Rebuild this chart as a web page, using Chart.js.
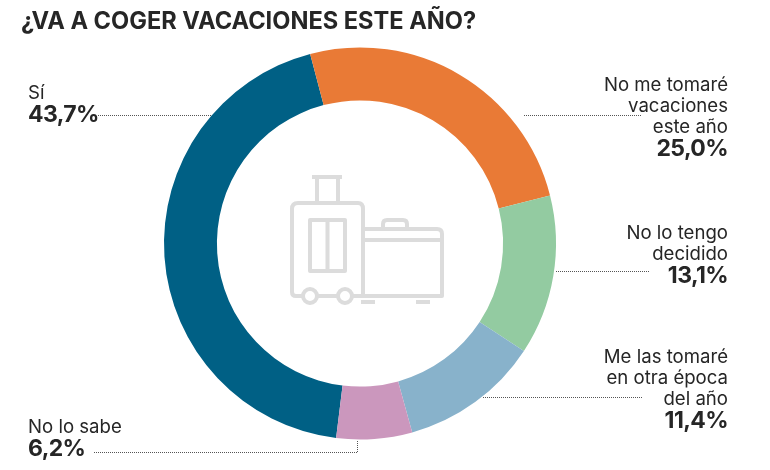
<!DOCTYPE html>
<html lang="es">
<head>
  <meta charset="UTF-8">
  <title>¿Va a coger vacaciones este año?</title>
  <script src="https://cdn.jsdelivr.net/npm/chart.js"></script>
  <style>
    html, body {
      margin: 0;
      background: white;
    }

    #wrap {
      position: relative;
      width: 770px;
      height: 470px;
      overflow: hidden;
      font-family: Inter, sans-serif;
      color: #262626;
    }

    #chart, #overlay {
      position: absolute;
      left: 0;
      top: 0;
    }

    h1 {
      position: absolute;
      left: 21px;
      top: 5px;
      margin: 0;
      font-size: 23.6px;
      line-height: 32px;
      font-weight: 700;
      white-space: nowrap;
    }

    .label {
      position: absolute;
      font-size: 18.6px;
      line-height: 21px;
      white-space: nowrap;
    }

    .label b {
      display: block;
      font-size: 23px;
      line-height: 23px;
      font-weight: 700;
      letter-spacing: -0.6px;
    }

    .right {
      right: 42px;
      text-align: right;
    }

    .left {
      left: 28px;
    }
  </style>
</head>
<body>
  <div id="wrap">
    <canvas id="chart" width="770" height="470"></canvas>
    <svg id="overlay" width="770" height="470" fill="none">
      <g stroke="#555" stroke-width="1" stroke-dasharray="1 1">
        <path d="M98 115.500H212"/>
        <path d="M524 115.500H642"/>
        <path d="M556 271.500H650"/>
        <path d="M483 397.500H642"/>
        <path d="M94 452.500H357.500V440"/>
      </g>
      <g stroke="#dcdcdc" stroke-width="4" stroke-linejoin="round">
        <path d="M312 177H342M317 177V203M338 177V203"/>
        <path d="M303 296H296Q292 296 292 292V209Q292 203 298 203H358Q363 203 363 209V294"/>
        <path d="M310 220H345V271H310ZM327.500 220V271"/>
        <circle cx="310" cy="296" r="7"/>
        <circle cx="345" cy="296" r="7"/>
        <path d="M317 296H338M352 296H363"/>
        <path d="M363 229H437Q442 229 442 234V296H363M363 240H442"/>
        <path d="M383 229V224Q383 220 387 220H403Q407 220 407 224V229"/>
        <path d="M361 302H375M416 302H430"/>
      </g>
    </svg>
    <h1 id="title"></h1>
    <div class="label left" style="top:82px"><span id="l0"></span><b id="v0"></b></div>
    <div class="label right" style="top:74px"><span id="l1"></span><b id="v1"></b></div>
    <div class="label right" style="top:222px"><span id="l2"></span><b id="v2"></b></div>
    <div class="label right" style="top:346px"><span id="l3"></span><b id="v3"></b></div>
    <div class="label left" style="top:416px"><span id="l4"></span><b id="v4"></b></div>
  </div>
  <script>
    const title = '¿VA A COGER VACACIONES ESTE AÑO?';
    const categories = ['Sí', 'No me tomaré<br>vacaciones<br>este año', 'No lo tengo<br>decidido', 'Me las tomaré<br>en otra época<br>del año', 'No lo sabe'];
    const values = [43.7, 25.0, 13.1, 11.4, 6.2];
    const colors = ['#006085', '#e97a36', '#93cba1', '#88b2cb', '#cb97bd'];

    document.getElementById('title').textContent = title;
    categories.forEach((c, i) => {
      document.getElementById('l' + i).innerHTML = c;
      document.getElementById('v' + i).textContent = values[i].toFixed(1).replace('.', ',') + '%';
    });

    new Chart(document.getElementById('chart'), {
      type: 'doughnut',
      data: {
        labels: categories,
        datasets: [{
          data: values,
          backgroundColor: colors,
          borderWidth: 0
        }]
      },
      options: {
        responsive: false,
        animation: false,
        cutout: '73%',
        rotation: 187,
        layout: { padding: { left: 164, right: 214, top: 47, bottom: 30 } },
        plugins: { legend: { display: false }, tooltip: { enabled: false } }
      }
    });
  </script>
</body>
</html>
